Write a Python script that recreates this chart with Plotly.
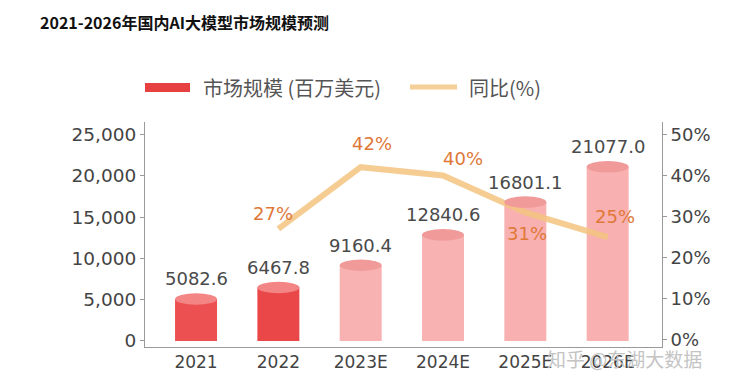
import plotly.graph_objects as go

categories = ["2021", "2022", "2023E", "2024E", "2025E", "2026E"]
market_size = [5082.6, 6467.8, 9160.4, 12840.6, 16801.1, 21077.0]
yoy_cats = ["2022", "2023E", "2024E", "2025E", "2026E"]
yoy_pct = [27, 42, 40, 31, 25]
yoy_labels = ["27%", "42%", "40%", "31%", "25%"]
left_ticks = [0, 5000, 10000, 15000, 20000, 25000]
left_ticktext = ["0", "5,000", "10,000", "15,000", "20,000", "25,000"]
right_ticks = [0, 10, 20, 30, 40, 50]
right_ticktext = ["0%", "10%", "20%", "30%", "40%", "50%"]

bar_colors = ["#ec5050", "#ea4848", "#f8b2b2", "#f8b2b2", "#f8b0b0", "#f8b0b0"]
cap_colors = ["#f38585", "#f38585", "#f09a9a", "#f09a9a", "#f09a9a", "#f09a9a"]
label_shift = [(-5, 15), (11, 24), (20, 17), (2, -21), (7, 21)]

NUM_FONT = "DejaVu Sans, Noto Sans CJK SC, sans-serif"
CJK_FONT = "Noto Sans CJK SC, sans-serif"
BAR_W = 0.51

# page body has an 8px margin, so the figure is drawn 8px smaller
W, H = 735, 379

fig = go.Figure()
fig.add_trace(go.Bar(x=list(range(len(categories))), y=market_size, width=BAR_W,
                     marker=dict(color=bar_colors, line=dict(width=0)),
                     showlegend=False, hoverinfo="skip"))
fig.add_trace(go.Scatter(x=[categories.index(c) for c in yoy_cats], y=yoy_pct, yaxis="y2",
                         mode="lines", line=dict(color="rgba(243,196,128,0.85)", width=6),
                         showlegend=False, hoverinfo="skip"))

# cylinder caps and value labels
for i, v in enumerate(market_size):
    fig.add_shape(type="circle", xref="x", yref="y", x0=i - BAR_W / 2, x1=i + BAR_W / 2,
                  y0=v - 700, y1=v + 700, fillcolor=cap_colors[i], line=dict(width=0), layer="above")
    fig.add_annotation(x=i, y=v, xref="x", yref="y", text=f"{v:.1f}", showarrow=False,
                       yshift=20, font=dict(size=18, color="#4a4a4a", family=NUM_FONT))

for c, p, t, (dx, dy) in zip(yoy_cats, yoy_pct, yoy_labels, label_shift):
    fig.add_annotation(x=categories.index(c), y=p, xref="x", yref="y2", text=t, showarrow=False,
                       xshift=dx, yshift=dy, font=dict(size=18, color="#e07838", family=NUM_FONT))

# custom legend (paper coordinates relative to plot area)
def px_x(px):
    return (px - 145) / 517

def px_y(py):
    return (347 - py) / 225

fig.add_shape(type="rect", xref="paper", yref="paper", x0=px_x(145), x1=px_x(190),
              y0=px_y(92), y1=px_y(83), fillcolor="#e64040", line=dict(width=0))
fig.add_annotation(xref="paper", yref="paper", x=px_x(201), y=px_y(87), xanchor="left",
                   yanchor="middle", text="市场规模 (百万美元)", showarrow=False,
                   font=dict(size=20, color="#555555", family=CJK_FONT))
fig.add_shape(type="line", xref="paper", yref="paper", x0=px_x(410), x1=px_x(457),
              y0=px_y(87), y1=px_y(87), line=dict(color="#f5cf98", width=5))
fig.add_annotation(xref="paper", yref="paper", x=px_x(467), y=px_y(87), xanchor="left",
                   yanchor="middle", text="同比(%)", showarrow=False,
                   font=dict(size=20, color="#555555", family=CJK_FONT))

# watermark text
fig.add_annotation(xref="paper", yref="paper", x=px_x(545), y=px_y(358), xanchor="left",
                   yanchor="middle", text="知乎 @东湖大数据", showarrow=False,
                   font=dict(size=19, color="#c4c4c4", family=CJK_FONT))

fig.update_layout(
    width=W, height=H,
    margin=dict(l=137, r=81, t=114, b=40),
    paper_bgcolor="white", plot_bgcolor="white",
    title=dict(text="<b>2021-2026年国内AI大模型市场规模预测</b>", x=32 / W, xref="container",
               xanchor="left", y=1 - 15 / H, yref="container", yanchor="middle",
               font=dict(size=16, color="#111111", family=CJK_FONT)),
    xaxis=dict(tickmode="array", tickvals=list(range(len(categories))), ticktext=categories,
               range=[-0.62, 5.66], showgrid=False, zeroline=False, showline=True,
               linecolor="#9a9a9a", linewidth=1, ticks="",
               tickfont=dict(size=17, color="#444444", family=NUM_FONT)),
    yaxis=dict(range=[-730, 26500], tickvals=left_ticks, ticktext=left_ticktext,
               showgrid=False, zeroline=False, showline=True, linecolor="#9a9a9a",
               linewidth=1, ticks="outside", ticklen=4, tickcolor="#9a9a9a",
               tickfont=dict(size=18.5, color="#444444", family=NUM_FONT)),
    yaxis2=dict(range=[-1.78, 53.0], tickvals=right_ticks, ticktext=right_ticktext,
                overlaying="y", side="right", showgrid=False, zeroline=False, showline=True,
                linecolor="#9a9a9a", linewidth=1, ticks="outside", ticklen=4, tickcolor="#9a9a9a",
                tickfont=dict(size=18, color="#444444", family=NUM_FONT)),
)

fig.write_html("out.html")
